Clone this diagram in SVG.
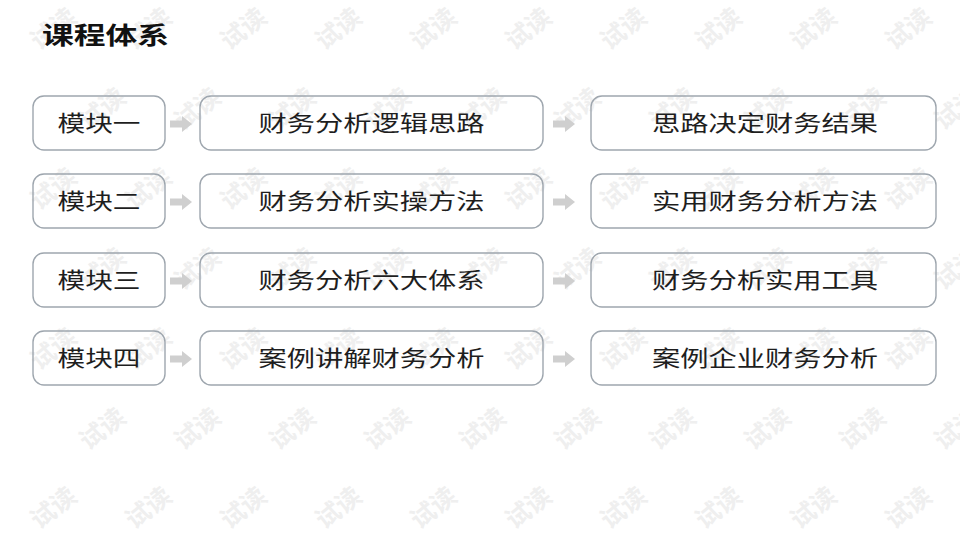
<svg xmlns="http://www.w3.org/2000/svg" xmlns:xlink="http://www.w3.org/1999/xlink" width="960" height="540" viewBox="0 0 960 540">
  <style>
    .box { fill: none; stroke: #9ea6ae; stroke-width: 1.4; }
    .lbl { font-family: "Noto Sans CJK SC", "Noto Sans", sans-serif; font-size: 22px; fill: #1e1e1e; text-anchor: middle; }
    .title { font-family: "Noto Sans CJK SC", "Noto Sans", sans-serif; font-size: 24px; font-weight: bold; fill: #111; }
    .wm { font-family: "Noto Sans CJK SC", sans-serif; font-size: 25px; font-weight: bold; fill: #efefef; text-anchor: middle; dominant-baseline: central; }
    .arr { fill: #cfcfcf; }
  </style>
  <defs>
    <text id="wm" class="wm" x="0" y="0">试读</text>
    <path id="arrow" d="M0,-3.5 H12 V-8 L22,0 L12,8 V3.5 H0 Z"/>
  </defs>
  <rect width="960" height="540" fill="#ffffff"/>

  <g id="watermark">
    <use xlink:href="#wm" transform="translate(52,27) rotate(-38)"/>
    <use xlink:href="#wm" transform="translate(147,27) rotate(-38)"/>
    <use xlink:href="#wm" transform="translate(242,27) rotate(-38)"/>
    <use xlink:href="#wm" transform="translate(337,27) rotate(-38)"/>
    <use xlink:href="#wm" transform="translate(432,27) rotate(-38)"/>
    <use xlink:href="#wm" transform="translate(527,27) rotate(-38)"/>
    <use xlink:href="#wm" transform="translate(622,27) rotate(-38)"/>
    <use xlink:href="#wm" transform="translate(717,27) rotate(-38)"/>
    <use xlink:href="#wm" transform="translate(812,27) rotate(-38)"/>
    <use xlink:href="#wm" transform="translate(907,27) rotate(-38)"/>

    <use xlink:href="#wm" transform="translate(101,107) rotate(-38)"/>
    <use xlink:href="#wm" transform="translate(196,107) rotate(-38)"/>
    <use xlink:href="#wm" transform="translate(291,107) rotate(-38)"/>
    <use xlink:href="#wm" transform="translate(386,107) rotate(-38)"/>
    <use xlink:href="#wm" transform="translate(481,107) rotate(-38)"/>
    <use xlink:href="#wm" transform="translate(576,107) rotate(-38)"/>
    <use xlink:href="#wm" transform="translate(671,107) rotate(-38)"/>
    <use xlink:href="#wm" transform="translate(766,107) rotate(-38)"/>
    <use xlink:href="#wm" transform="translate(861,107) rotate(-38)"/>
    <use xlink:href="#wm" transform="translate(956,107) rotate(-38)"/>

    <use xlink:href="#wm" transform="translate(52,187) rotate(-38)"/>
    <use xlink:href="#wm" transform="translate(147,187) rotate(-38)"/>
    <use xlink:href="#wm" transform="translate(242,187) rotate(-38)"/>
    <use xlink:href="#wm" transform="translate(337,187) rotate(-38)"/>
    <use xlink:href="#wm" transform="translate(432,187) rotate(-38)"/>
    <use xlink:href="#wm" transform="translate(527,187) rotate(-38)"/>
    <use xlink:href="#wm" transform="translate(622,187) rotate(-38)"/>
    <use xlink:href="#wm" transform="translate(717,187) rotate(-38)"/>
    <use xlink:href="#wm" transform="translate(812,187) rotate(-38)"/>
    <use xlink:href="#wm" transform="translate(907,187) rotate(-38)"/>

    <use xlink:href="#wm" transform="translate(101,267) rotate(-38)"/>
    <use xlink:href="#wm" transform="translate(196,267) rotate(-38)"/>
    <use xlink:href="#wm" transform="translate(291,267) rotate(-38)"/>
    <use xlink:href="#wm" transform="translate(386,267) rotate(-38)"/>
    <use xlink:href="#wm" transform="translate(481,267) rotate(-38)"/>
    <use xlink:href="#wm" transform="translate(576,267) rotate(-38)"/>
    <use xlink:href="#wm" transform="translate(671,267) rotate(-38)"/>
    <use xlink:href="#wm" transform="translate(766,267) rotate(-38)"/>
    <use xlink:href="#wm" transform="translate(861,267) rotate(-38)"/>
    <use xlink:href="#wm" transform="translate(956,267) rotate(-38)"/>

    <use xlink:href="#wm" transform="translate(52,347) rotate(-38)"/>
    <use xlink:href="#wm" transform="translate(147,347) rotate(-38)"/>
    <use xlink:href="#wm" transform="translate(242,347) rotate(-38)"/>
    <use xlink:href="#wm" transform="translate(337,347) rotate(-38)"/>
    <use xlink:href="#wm" transform="translate(432,347) rotate(-38)"/>
    <use xlink:href="#wm" transform="translate(527,347) rotate(-38)"/>
    <use xlink:href="#wm" transform="translate(622,347) rotate(-38)"/>
    <use xlink:href="#wm" transform="translate(717,347) rotate(-38)"/>
    <use xlink:href="#wm" transform="translate(812,347) rotate(-38)"/>
    <use xlink:href="#wm" transform="translate(907,347) rotate(-38)"/>

    <use xlink:href="#wm" transform="translate(101,427) rotate(-38)"/>
    <use xlink:href="#wm" transform="translate(196,427) rotate(-38)"/>
    <use xlink:href="#wm" transform="translate(291,427) rotate(-38)"/>
    <use xlink:href="#wm" transform="translate(386,427) rotate(-38)"/>
    <use xlink:href="#wm" transform="translate(481,427) rotate(-38)"/>
    <use xlink:href="#wm" transform="translate(576,427) rotate(-38)"/>
    <use xlink:href="#wm" transform="translate(671,427) rotate(-38)"/>
    <use xlink:href="#wm" transform="translate(766,427) rotate(-38)"/>
    <use xlink:href="#wm" transform="translate(861,427) rotate(-38)"/>
    <use xlink:href="#wm" transform="translate(956,427) rotate(-38)"/>

    <use xlink:href="#wm" transform="translate(52,506) rotate(-38)"/>
    <use xlink:href="#wm" transform="translate(147,506) rotate(-38)"/>
    <use xlink:href="#wm" transform="translate(242,506) rotate(-38)"/>
    <use xlink:href="#wm" transform="translate(337,506) rotate(-38)"/>
    <use xlink:href="#wm" transform="translate(432,506) rotate(-38)"/>
    <use xlink:href="#wm" transform="translate(527,506) rotate(-38)"/>
    <use xlink:href="#wm" transform="translate(622,506) rotate(-38)"/>
    <use xlink:href="#wm" transform="translate(717,506) rotate(-38)"/>
    <use xlink:href="#wm" transform="translate(812,506) rotate(-38)"/>
    <use xlink:href="#wm" transform="translate(907,506) rotate(-38)"/>
  </g>

  <g id="title">
    <text class="title" x="42" y="44" textLength="127" lengthAdjust="spacingAndGlyphs">课程体系</text>
  </g>

  <g id="connectors" class="arr">
    <use xlink:href="#arrow" transform="translate(170,124)"/>
    <use xlink:href="#arrow" transform="translate(553,124)"/>
    <use xlink:href="#arrow" transform="translate(170,202)"/>
    <use xlink:href="#arrow" transform="translate(553,202)"/>
    <use xlink:href="#arrow" transform="translate(170,281)"/>
    <use xlink:href="#arrow" transform="translate(553,281)"/>
    <use xlink:href="#arrow" transform="translate(170,359)"/>
    <use xlink:href="#arrow" transform="translate(553,359)"/>
  </g>

  <g id="m1">
    <rect class="box" x="33" y="96" width="132" height="54" rx="11"/>
    <text class="lbl" x="99" y="130.5" textLength="83" lengthAdjust="spacingAndGlyphs">模块一</text>
  </g>
  <g id="m1-a">
    <rect class="box" x="200" y="96" width="343" height="54" rx="11"/>
    <text class="lbl" x="371.5" y="130.5" textLength="226" lengthAdjust="spacingAndGlyphs">财务分析逻辑思路</text>
  </g>
  <g id="m1-b">
    <rect class="box" x="591" y="96" width="345" height="54" rx="11"/>
    <text class="lbl" x="765" y="130.5" textLength="226" lengthAdjust="spacingAndGlyphs">思路决定财务结果</text>
  </g>

  <g id="m2">
    <rect class="box" x="33" y="174" width="132" height="54" rx="11"/>
    <text class="lbl" x="99" y="208.5" textLength="83" lengthAdjust="spacingAndGlyphs">模块二</text>
  </g>
  <g id="m2-a">
    <rect class="box" x="200" y="174" width="343" height="54" rx="11"/>
    <text class="lbl" x="371.5" y="208.5" textLength="226" lengthAdjust="spacingAndGlyphs">财务分析实操方法</text>
  </g>
  <g id="m2-b">
    <rect class="box" x="591" y="174" width="345" height="54" rx="11"/>
    <text class="lbl" x="765" y="208.5" textLength="226" lengthAdjust="spacingAndGlyphs">实用财务分析方法</text>
  </g>

  <g id="m3">
    <rect class="box" x="33" y="253" width="132" height="54" rx="11"/>
    <text class="lbl" x="99" y="287.5" textLength="83" lengthAdjust="spacingAndGlyphs">模块三</text>
  </g>
  <g id="m3-a">
    <rect class="box" x="200" y="253" width="343" height="54" rx="11"/>
    <text class="lbl" x="371.5" y="287.5" textLength="226" lengthAdjust="spacingAndGlyphs">财务分析六大体系</text>
  </g>
  <g id="m3-b">
    <rect class="box" x="591" y="253" width="345" height="54" rx="11"/>
    <text class="lbl" x="765" y="287.5" textLength="226" lengthAdjust="spacingAndGlyphs">财务分析实用工具</text>
  </g>

  <g id="m4">
    <rect class="box" x="33" y="331" width="132" height="54" rx="11"/>
    <text class="lbl" x="99" y="365.5" textLength="83" lengthAdjust="spacingAndGlyphs">模块四</text>
  </g>
  <g id="m4-a">
    <rect class="box" x="200" y="331" width="343" height="54" rx="11"/>
    <text class="lbl" x="371.5" y="365.5" textLength="226" lengthAdjust="spacingAndGlyphs">案例讲解财务分析</text>
  </g>
  <g id="m4-b">
    <rect class="box" x="591" y="331" width="345" height="54" rx="11"/>
    <text class="lbl" x="765" y="365.5" textLength="226" lengthAdjust="spacingAndGlyphs">案例企业财务分析</text>
  </g>
</svg>
